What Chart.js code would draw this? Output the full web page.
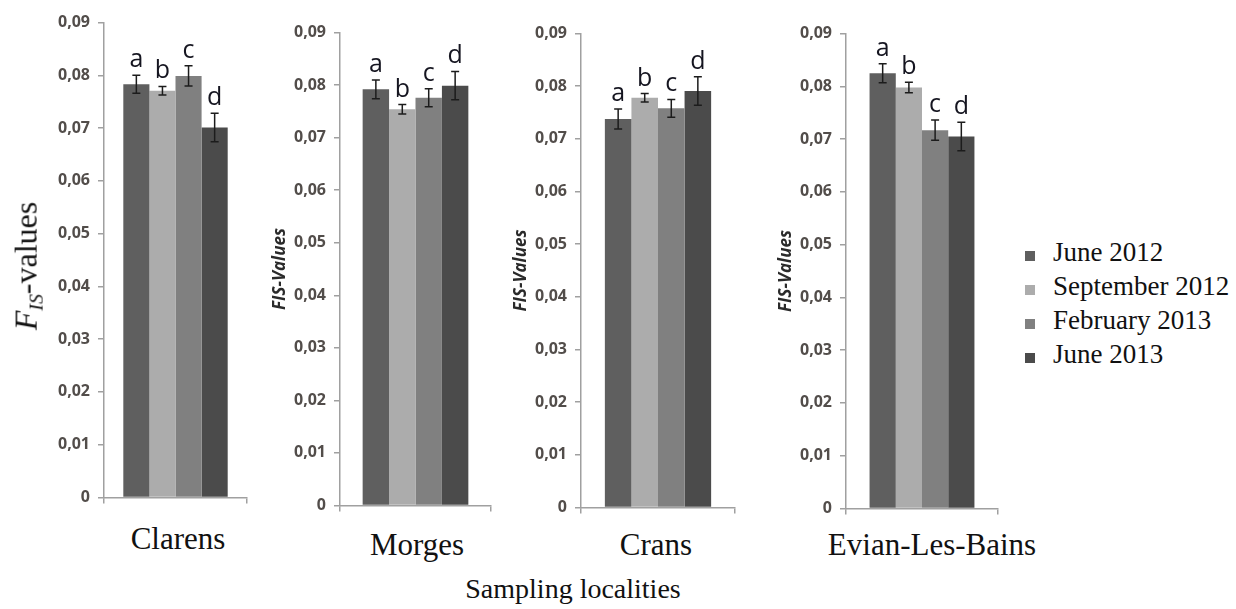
<!DOCTYPE html>
<html>
<head>
<meta charset="utf-8">
<script src="https://cdn.jsdelivr.net/npm/chart.js@4.4.1/dist/chart.umd.min.js"></script>
<style>
  html, body { margin: 0; padding: 0; background: #fff; }
  #wrap { position: relative; width: 1236px; height: 609px; overflow: hidden; background: #fff; }
  #wrap canvas { position: absolute; }
  .serif { position: absolute; font-family: "Liberation Serif", "Times New Roman", serif; color: #111; white-space: nowrap; line-height: 1; }
  .loc { font-size: 31px; transform: translateX(-50%); }
  .key { position: absolute; width: 10px; height: 10px; }
  #ytitle { font-size: 32px; transform: translate(-50%, -50%) rotate(-90deg); }
  #ytitle sub { font-size: 0.62em; vertical-align: -0.3em; }
</style>
</head>
<body>
<div id="wrap">
  <canvas id="clarensChart"></canvas>
  <canvas id="morgesChart"></canvas>
  <canvas id="cransChart"></canvas>
  <canvas id="evianChart"></canvas>
  <div id="ytitle" class="serif" style="left:28px; top:266px;"><i>F</i><sub><i>IS</i></sub>-values</div>
  <div id="labels"></div>
</div>
<script>
// --- Data ---
const localities = ['Clarens', 'Morges', 'Crans', 'Evian-Les-Bains'];
const periods = ['June 2012', 'September 2012', 'February 2013', 'June 2013'];
const sigLetters = ['a', 'b', 'c', 'd'];

const clarensFis = [0.0783, 0.0771, 0.0799, 0.0701];
const clarensErr = [0.0017, 0.0008, 0.0019, 0.0027];
const morgesFis  = [0.0792, 0.0754, 0.0776, 0.0799];
const morgesErr  = [0.0018, 0.0009, 0.0017, 0.0027];
const cransFis   = [0.0738, 0.0778, 0.0758, 0.0791];
const cransErr   = [0.0019, 0.0008, 0.0017, 0.0027];
const evianFis   = [0.0825, 0.0798, 0.0717, 0.0705];
const evianErr   = [0.0018, 0.0010, 0.0019, 0.0027];

const yMin = 0, yMax = 0.09, yStep = 0.01;

// --- Styling ---
const periodColors = ['#5f5f5f', '#acacac', '#808080', '#4b4b4b'];
const axisGray = '#a0a0a0';
const Y_AXIS_W = 70, PAD_TOP = 14, PAD_RIGHT = 6, X_AXIS_H = 14;

// plot-area boxes of the four panels (pixels in the page)
const panels = [
  { canvas: 'clarensChart', L: 104, R: 247, T: 19, B: 501, cat: 0.73, title: false, fis: clarensFis, err: clarensErr, labelX: 178, labelY: 523 },
  { canvas: 'morgesChart',  L: 340, R: 491, T: 29, B: 509, cat: 0.70, title: true,  fis: morgesFis,  err: morgesErr,  labelX: 417, labelY: 529 },
  { canvas: 'cransChart',   L: 581, R: 735, T: 30, B: 511, cat: 0.69, title: true,  fis: cransFis,   err: cransErr,   labelX: 656, labelY: 529 },
  { canvas: 'evianChart',   L: 846, R: 998, T: 30, B: 512, cat: 0.69, title: true,  fis: evianFis,   err: evianErr,   labelX: 932, labelY: 529 }
];

// error bars + significance letters, drawn from the chart's own scales
const errorBarPlugin = {
  id: 'errorBars',
  afterDatasetsDraw(chart, args, opts) {
    const ctx = chart.ctx;
    const yScale = chart.scales.y;
    ctx.save();
    chart.data.datasets.forEach((ds, i) => {
      const bar = chart.getDatasetMeta(i).data[0];
      const v = ds.data[0], e = opts.errors[i];
      const top = yScale.getPixelForValue(v + e);
      const bot = yScale.getPixelForValue(v - e);
      ctx.strokeStyle = '#1c1c1c';
      ctx.lineWidth = 1.5;
      ctx.beginPath();
      ctx.moveTo(bar.x, top); ctx.lineTo(bar.x, bot);
      ctx.moveTo(bar.x - 4, top); ctx.lineTo(bar.x + 4, top);
      ctx.moveTo(bar.x - 4, bot); ctx.lineTo(bar.x + 4, bot);
      ctx.stroke();
      ctx.fillStyle = '#151520';
      ctx.font = '25px "Open Sans", sans-serif';
      ctx.textAlign = 'center';
      ctx.textBaseline = 'alphabetic';
      ctx.fillText(opts.letters[i], bar.x, top - 8);
    });
    ctx.restore();
  }
};

function fmtTick(value) {
  if (Math.abs(value) < 1e-9) return '0';
  return value.toFixed(2).replace('.', ',');
}

panels.forEach((p, idx) => {
  const canvas = document.getElementById(p.canvas);
  const w = (p.R - p.L) + Y_AXIS_W + PAD_RIGHT;
  const h = (p.B - p.T) + PAD_TOP + X_AXIS_H;
  canvas.width = w; canvas.height = h;
  canvas.style.left = (p.L - Y_AXIS_W) + 'px';
  canvas.style.top = (p.T - PAD_TOP) + 'px';

  new Chart(canvas.getContext('2d'), {
    type: 'bar',
    data: {
      labels: [localities[idx]],
      datasets: periods.map((name, j) => ({
        label: name,
        data: [p.fis[j]],
        backgroundColor: periodColors[j],
        borderWidth: 0,
        categoryPercentage: p.cat,
        barPercentage: 1.0
      }))
    },
    options: {
      responsive: false,
      animation: false,
      layout: { padding: { top: PAD_TOP, right: PAD_RIGHT, bottom: 0, left: 0 } },
      scales: {
        x: {
          offset: true,
          ticks: { display: false },
          grid: { display: true, offset: true, drawOnChartArea: false, drawTicks: true, tickLength: 6, color: axisGray, lineWidth: 1.5 },
          border: { display: true, color: axisGray, width: 1.5 },
          afterFit: s => { s.height = X_AXIS_H; }
        },
        y: {
          min: yMin,
          max: yMax,
          ticks: {
            stepSize: yStep,
            padding: 8,
            color: '#524d4a',
            font: { family: 'Open Sans', size: 16, weight: 'bold' },
            callback: v => fmtTick(v)
          },
          grid: { display: true, drawOnChartArea: false, drawTicks: true, tickLength: 6, color: axisGray, lineWidth: 1.5 },
          border: { display: true, color: axisGray, width: 1.5 },
          title: {
            display: p.title,
            text: 'FIS-Values',
            color: '#2a2a2a',
            font: { family: 'Open Sans', size: 17, weight: 'bold', style: 'italic' },
            padding: { top: 0, bottom: 0 }
          },
          afterFit: s => { s.width = Y_AXIS_W; }
        }
      },
      plugins: {
        legend: { display: false },
        tooltip: { enabled: false },
        errorBars: { errors: p.err, letters: sigLetters }
      }
    },
    plugins: [errorBarPlugin]
  });
});

// --- Text labels: localities, x title, legend ---
const labelBox = document.getElementById('labels');
panels.forEach((p, idx) => {
  const d = document.createElement('div');
  d.className = 'serif loc';
  d.style.left = p.labelX + 'px';
  d.style.top = p.labelY + 'px';
  d.textContent = localities[idx];
  labelBox.appendChild(d);
});

const xTitle = document.createElement('div');
xTitle.className = 'serif';
xTitle.style.cssText = 'font-size:28px; left:573px; top:575px; transform:translateX(-50%);';
xTitle.textContent = 'Sampling localities';
labelBox.appendChild(xTitle);

periods.forEach((name, j) => {
  const cy = 256 + 34 * j;
  const sq = document.createElement('div');
  sq.className = 'key';
  sq.style.left = '1025px';
  sq.style.top = (cy - 5) + 'px';
  sq.style.background = periodColors[j];
  labelBox.appendChild(sq);
  const t = document.createElement('div');
  t.className = 'serif';
  t.style.fontSize = '27px';
  t.style.left = '1053px';
  t.style.top = (cy + 6 - 23) + 'px';
  t.textContent = name;
  labelBox.appendChild(t);
});
</script>
</body>
</html>
